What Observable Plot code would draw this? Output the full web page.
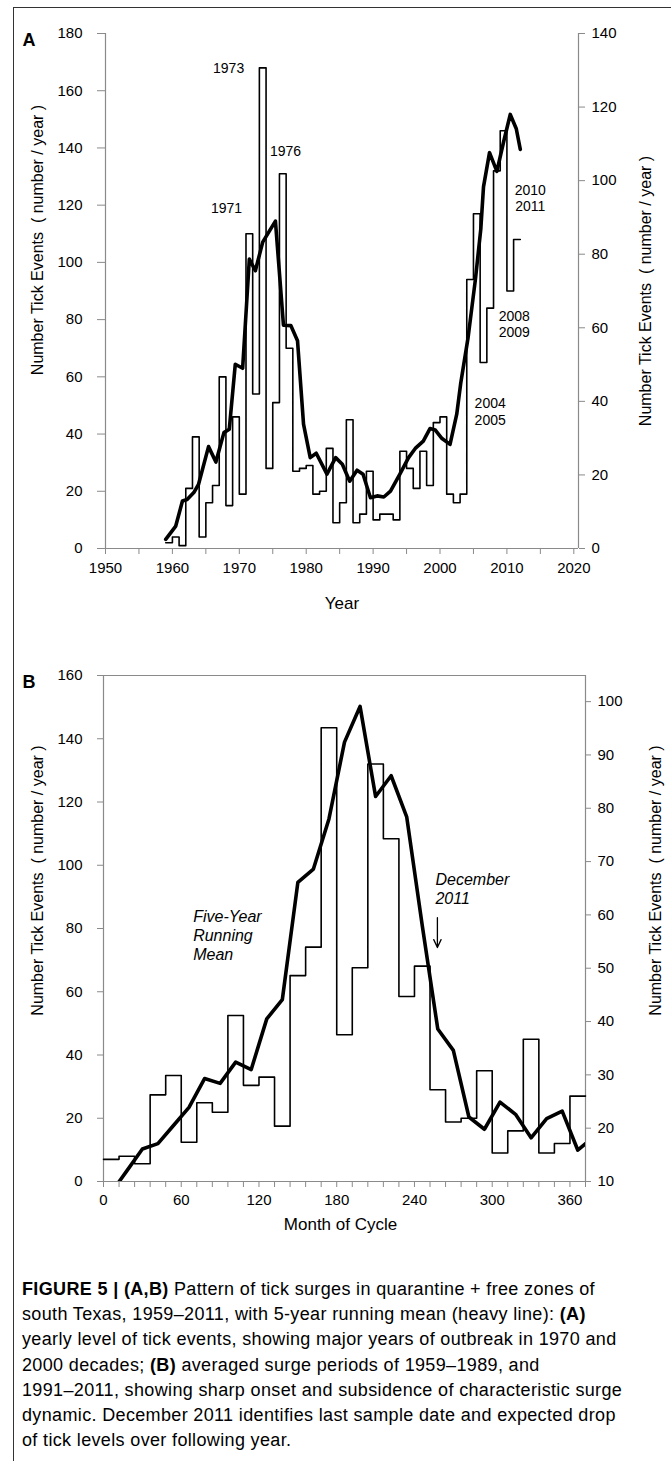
<!DOCTYPE html>
<html>
<head>
<meta charset="utf-8">
<script src="https://cdn.jsdelivr.net/npm/d3@7"></script>
<script src="https://cdn.jsdelivr.net/npm/@observablehq/plot@0.6"></script>
<style>
  html, body { margin: 0; padding: 0; background: #fff; }
  #page { position: relative; width: 671px; height: 1461px; overflow: hidden; background: #fff;
          font-family: "Liberation Sans", Arial, Helvetica, sans-serif; color: #000; }
  #page svg { position: absolute; left: 0; }
  .bl { position: absolute; background: #333; }
  #caption { position: absolute; left: 22px; top: 1277px; font-size: 18px; line-height: 25.2px;
             white-space: nowrap; letter-spacing: 0.35px; }
</style>
</head>
<body>
<div id="page">
  <div class="bl" style="left:13px;top:7px;width:1px;height:1454px;"></div>
  <div class="bl" style="left:13px;top:7px;width:658px;height:1px;"></div>
  <div id="caption">
    <div><b>FIGURE 5 | (A,B)</b> Pattern of tick surges in quarantine + free zones of</div>
    <div>south Texas, 1959–2011, with 5-year running mean (heavy line): <b>(A)</b></div>
    <div>yearly level of tick events, showing major years of outbreak in 1970 and</div>
    <div>2000 decades; <b>(B)</b> averaged surge periods of 1959–1989, and</div>
    <div>1991–2011, showing sharp onset and subsidence of characteristic surge</div>
    <div>dynamic. December 2011 identifies last sample date and expected drop</div>
    <div>of tick levels over following year.</div>
  </div>
</div>
<script>
// ---------------- Panel A data ----------------
const yearsA = [1959,1960,1961,1962,1963,1964,1965,1966,1967,1968,
                1969,1970,1971,1972,1973,1974,1975,1976,1977,1978,
                1979,1980,1981,1982,1983,1984,1985,1986,1987,1988,
                1989,1990,1991,1992,1993,1994,1995,1996,1997,1998,
                1999,2000,2001,2002,2003,2004,2005,2006,2007,2008,
                2009,2010,2011];
const eventsA = [2,4,1,21,39,4,16,22,60,15,
                 46,19,110,54,168,28,51,131,70,27,
                 28,29,19,20,35,9,16,45,9,12,
                 27,10,12,12,10,34,28,21,34,22,
                 44,46,19,16,19,94,117,65,84,132,
                 146,90,108];
const meanYearsA = [1959.0,1960.5,1961.5,1962.2,1963.2,1963.9,1965.4,1966.5,1967.7,1968.5,
                    1969.4,1970.5,1971.5,1972.4,1973.5,1974.4,1975.4,1976.6,1977.7,1978.7,
                    1979.6,1980.6,1981.5,1983.1,1984.4,1985.4,1986.5,1987.6,1988.5,1989.6,
                    1990.6,1991.6,1992.6,1994.0,1995.3,1996.3,1997.5,1998.5,1999.3,2000.3,
                    2001.5,2002.5,2003.1,2004.2,2005.3,2006.1,2006.5,2007.4,2008.5,2009.5,
                    2010.5,2011.4,2012.0];
const meanA = [2.5,6.1,12.9,13.3,15.2,17.4,27.7,23.5,31.5,32.4,
               50.1,49.0,78.7,75.5,83.3,86.0,89.0,60.7,60.6,56.5,
               33.8,24.7,25.9,20.2,24.7,22.9,18.3,21.3,20.2,13.8,
               14.3,14.0,15.6,20.2,24.7,27.2,29.2,32.6,32.2,29.9,
               28.3,36.5,45.0,57.4,73.3,86.9,98.3,107.6,102.5,110.5,
               118.0,114.1,108.5];
const xDomainA = [1950, 2020.7];
const xLabelTicksA = [1950,1960,1970,1980,1990,2000,2010,2020];
const xMinorTicksA = [1950,1955,1960,1965,1970,1975,1980,1985,1990,1995,2000,2005,2010,2015,2020];
const yLeftDomainA = [0, 180];
const yLeftTicksA = [0,20,40,60,80,100,120,140,160,180];
const yRightDomainA = [0, 140];
const yRightTicksA = [0,20,40,60,80,100,120,140];
const labelTextA = ["1971","1973","1976","2004\n2005","2008\n2009","2010\n2011"];
const labelXA = [1968.1,1968.4,1976.9,2007.5,2011.1,2013.5];
const labelYA = [119.3,168,139.2,48,78.6,122.6];

// ---------------- Panel B data ----------------
const monthsB = [0,12,24,36,48,60,72,84,96,108,
                 120,132,144,156,168,180,192,204,216,228,
                 240,252,264,276,288,300,312,324,336,348,360];
const eventsB = [7,8,5.6,27.4,33.5,12.4,24.9,21.9,52.5,30.4,
                 33,17.5,65.1,74.1,143.5,46.4,67.6,132,108.4,58.5,
                 68.1,29,18.8,20,35,9,16,45,9,12,27];
const meanMonthsB = [6,18,30,42,54,66,78,90,102,114,
                     126,138,150,162,174,186,198,210,222,234,
                     246,258,270,282,294,306,318,330,342,354,366,378];
const meanB = [7.9,12,16.1,17.1,20.5,23.9,29.3,28.4,32.4,31,
               40.5,44.1,66.1,68.6,78,92.4,99.1,82.2,86.1,78.4,
               58,38.6,34.6,22.1,19.8,24.9,22.6,18.2,21.8,23.2,15.9,18.3];
const xDomainB = [0, 372];
const xLabelTicksB = [0,60,120,180,240,300,360];
const xMinorTicksB = [0,12,24,36,48,60,72,84,96,108,120,132,144,156,168,180,192,204,216,228,240,252,264,276,288,300,312,324,336,348,360,372];
const yLeftDomainB = [0, 160];
const yLeftTicksB = [0,20,40,60,80,100,120,140,160];
const yRightDomainB = [10, 104.9];
const yRightTicksB = [10,20,30,40,50,60,70,80,90,100];
const noteTextB = ["Five-Year\nRunning\nMean", "December\n2011"];
const noteMonthB = [69.2, 256.2];
const noteValueB = [78.1, 92.8];
const arrowMonthB = [257.7];
const arrowFromB = [83.4];
const arrowToB = [74];

// ---------------- shared ----------------
const yTitle = "Number Tick Events  ( number / year )";
const axisGray = "#8a8a8a";
const fontFam = "'Liberation Sans', Arial, Helvetica, sans-serif";
const style = {background: "transparent", fontFamily: fontFam, fontSize: "15px", color: "#000", overflow: "visible"};
const page = document.getElementById("page");
function place(svg, top) { svg.style.top = top + "px"; page.appendChild(svg); }
const blank = () => "";
const plain = d => String(d);

const stepA = yearsA.map((y, i) => ({x: y, v: eventsA[i]}));
stepA.push({x: yearsA[yearsA.length - 1] + 1, v: eventsA[eventsA.length - 1]});
const lineA = meanYearsA.map((y, i) => ({x: y, v: meanA[i]}));
const stepB = monthsB.map((m, i) => ({x: m, v: eventsB[i]}));
stepB.push({x: monthsB[monthsB.length - 1] + 12, v: eventsB[eventsB.length - 1]});
const lineB = meanMonthsB.map((m, i) => ({x: m, v: meanB[i]}));

const W = 671;
// ---------------- Panel A : left layer ----------------
const A1 = Plot.plot({
  width: W, height: 640, marginLeft: 105, marginRight: 93, marginTop: 33, marginBottom: 92,
  x: {domain: xDomainA}, y: {domain: yLeftDomainA}, style,
  marks: [
    Plot.ruleY([yLeftDomainA[0]], {stroke: axisGray, strokeWidth: 1.2}),
    Plot.ruleX([xDomainA[0], xDomainA[1]], {stroke: axisGray, strokeWidth: 1.2}),
    Plot.axisX({ticks: xMinorTicksA, tickFormat: blank, tickSize: 6, stroke: axisGray, label: null}),
    Plot.axisX({ticks: xLabelTicksA, tickFormat: plain, tickSize: 0, tickPadding: 14, fontSize: 15, label: null, fill: "#000"}),
    Plot.axisY({ticks: yLeftTicksA, tickFormat: plain, tickSize: 8, tickPadding: 15, fontSize: 15, label: null, stroke: axisGray, fill: "#000"}),
    Plot.line(stepA, {x: "x", y: "v", curve: "step-after", stroke: "#000", strokeWidth: 1.6}),
    Plot.text(labelTextA, {x: (d, i) => labelXA[i], y: (d, i) => labelYA[i], text: d => d, fontSize: 14, lineHeight: 1.2, fill: "#000"}),
    Plot.text(["A"], {frameAnchor: "top-left", dx: -83, textAnchor: "start", fontWeight: "bold", fontSize: 18}),
    Plot.text([yTitle], {frameAnchor: "left", textAnchor: "middle", rotate: -90, dx: -68, dy: -51, fontSize: 16}),
    Plot.text(["Year"], {frameAnchor: "bottom", dy: 60, fontSize: 17})
  ]
});
place(A1, 0);

// ---------------- Panel A : right layer ----------------
const A2 = Plot.plot({
  width: W, height: 640, marginLeft: 105, marginRight: 93, marginTop: 33, marginBottom: 92,
  x: {domain: xDomainA, axis: null}, y: {domain: yRightDomainA}, style,
  marks: [
    Plot.axisY({anchor: "right", ticks: yRightTicksA, tickFormat: plain, tickSize: 6, tickPadding: 7, fontSize: 15, label: null, stroke: axisGray, fill: "#000"}),
    Plot.line(lineA, {x: "x", y: "v", stroke: "#000", strokeWidth: 3.6, strokeLinejoin: "round"}),
    Plot.text([yTitle], {frameAnchor: "right", textAnchor: "middle", rotate: -90, dx: 67, dy: 0, fontSize: 16})
  ]
});
place(A2, 0);

// ---------------- Panel B : left layer ----------------
const B1 = Plot.plot({
  width: W, height: 620, marginLeft: 103, marginRight: 86, marginTop: 35, marginBottom: 79,
  x: {domain: xDomainB}, y: {domain: yLeftDomainB}, style,
  marks: [
    Plot.ruleY(yLeftDomainB, {stroke: axisGray, strokeWidth: 1.2}),
    Plot.ruleX(xDomainB, {stroke: axisGray, strokeWidth: 1.2}),
    Plot.axisX({ticks: xMinorTicksB, tickFormat: blank, tickSize: 6, stroke: axisGray, label: null}),
    Plot.axisX({ticks: xLabelTicksB, tickFormat: plain, tickSize: 0, tickPadding: 13, fontSize: 15, label: null, fill: "#000"}),
    Plot.axisY({ticks: yLeftTicksB, tickFormat: plain, tickSize: 6, tickPadding: 15, fontSize: 15, label: null, stroke: axisGray, fill: "#000"}),
    Plot.line(stepB, {x: "x", y: "v", curve: "step-after", stroke: "#000", strokeWidth: 1.6}),
    Plot.text(noteTextB, {x: (d, i) => noteMonthB[i], y: (d, i) => noteValueB[i], text: d => d, textAnchor: "start", fontStyle: "italic", fontSize: 16, lineHeight: 1.19}),
    Plot.arrow(arrowMonthB, {x1: d => d, x2: d => d, y1: (d, i) => arrowFromB[i], y2: (d, i) => arrowToB[i], stroke: "#000", strokeWidth: 1.3, headLength: 10, headAngle: 50}),
    Plot.text(["B"], {frameAnchor: "top-left", dx: -81, textAnchor: "start", fontWeight: "bold", fontSize: 18}),
    Plot.text([yTitle], {frameAnchor: "left", textAnchor: "middle", rotate: -90, dx: -66, dy: -48, fontSize: 16}),
    Plot.text(["Month of Cycle"], {frameAnchor: "bottom", dy: 48, dx: -4, fontSize: 17})
  ]
});
place(B1, 640);

// ---------------- Panel B : right layer ----------------
const B2 = Plot.plot({
  width: W, height: 620, marginLeft: 103, marginRight: 86, marginTop: 35, marginBottom: 79,
  x: {domain: xDomainB, axis: null}, y: {domain: yRightDomainB}, style,
  marks: [
    Plot.axisY({anchor: "right", ticks: yRightTicksB, tickFormat: plain, tickSize: 5, tickPadding: 7, fontSize: 15, label: null, stroke: axisGray, fill: "#000"}),
    Plot.line(lineB, {x: "x", y: "v", stroke: "#000", strokeWidth: 3.6, strokeLinejoin: "round", clip: true}),
    Plot.text([yTitle], {frameAnchor: "right", textAnchor: "middle", rotate: -90, dx: 70, dy: -48, fontSize: 16})
  ]
});
place(B2, 640);
</script>
</body>
</html>
